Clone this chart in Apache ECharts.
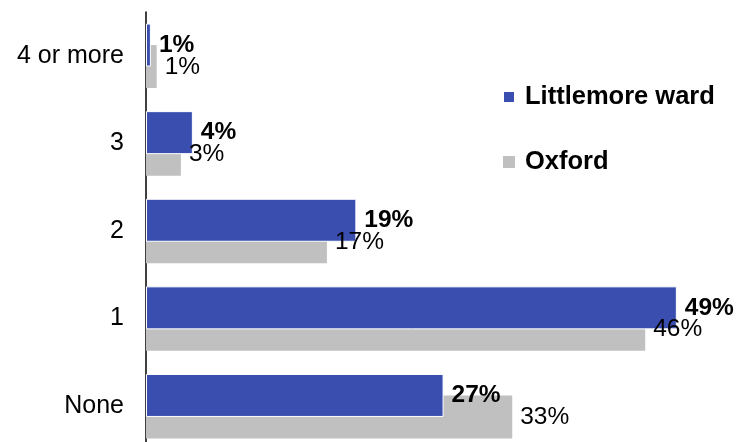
<!DOCTYPE html>
<html>
<head>
<meta charset="utf-8">
<script src="https://cdn.jsdelivr.net/npm/echarts@6/dist/echarts.min.js"></script>
<style>html,body{margin:0;padding:0;background:#fff}#c{width:737px;height:442px}</style>
</head>
<body>
<div id="c"></div>
<script>
const categories = ['None', '1', '2', '3', '4 or more'];
const littlemoreValues = [27.3, 48.7, 19.3, 4.3, 0.45];
const oxfordValues = [33.6, 45.8, 16.6, 3.2, 0.98];
const littlemoreLabels = ['27%', '49%', '19%', '4%', '1%'];
const oxfordLabels = ['33%', '46%', '17%', '3%', '1%'];
const seriesNames = ['Littlemore ward', 'Oxford'];

const FONT = '"Liberation Sans", Arial, sans-serif';
const chart = echarts.init(document.getElementById('c'), null, {renderer: 'canvas'});
chart.setOption({
  animation: false,
  backgroundColor: '#fff',
  grid: {left: 146, width: 545, top: 12, height: 438, containLabel: false, outerBoundsMode: 'none'},
  legend: {
    orient: 'vertical', left: 497, top: 79, itemGap: 39,
    icon: 'rect', itemWidth: 12, itemHeight: 12,
    textStyle: {fontFamily: FONT, fontSize: 25.5, fontWeight: 'bold', color: '#000', padding: [0, 0, 0, 5]},
    data: seriesNames
  },
  xAxis: {type: 'value', min: 0, max: 50, show: false, splitLine: {show: false}},
  yAxis: {
    type: 'category', data: categories,
    axisLine: {show: true, lineStyle: {color: '#000', width: 1.5}},
    axisTick: {show: false},
    axisLabel: {fontFamily: FONT, fontSize: 25, color: '#000', margin: 22}
  },
  series: [
    {
      name: seriesNames[0], type: 'bar', data: littlemoreValues, barWidth: 43, barGap: '-50%', z: 3,
      itemStyle: {color: '#394EAE', borderColor: '#fff', borderWidth: 1},
      label: {show: true, position: 'right', distance: 8, fontFamily: FONT, fontSize: 24.5, fontWeight: 'bold', color: '#000',
        formatter: p => littlemoreLabels[p.dataIndex]}
    },
    {
      name: seriesNames[1], type: 'bar', data: oxfordValues, barWidth: 43, barGap: '-50%', z: 2,
      itemStyle: {color: '#C0C0C0'},
      label: {show: false}
    },
    {
      name: 'Oxford labels', type: 'scatter', z: 4, symbolSize: 0, silent: true,
      data: oxfordValues.map((v, i) => [v, categories[i]]),
      itemStyle: {color: 'rgba(0,0,0,0)', opacity: 1},
      label: {show: true, position: 'right', distance: 8, offset: [0, 11], fontFamily: FONT, fontSize: 24.5, color: '#000', opacity: 1,
        formatter: p => oxfordLabels[p.dataIndex]}
    }
  ]
});
</script>
</body>
</html>
